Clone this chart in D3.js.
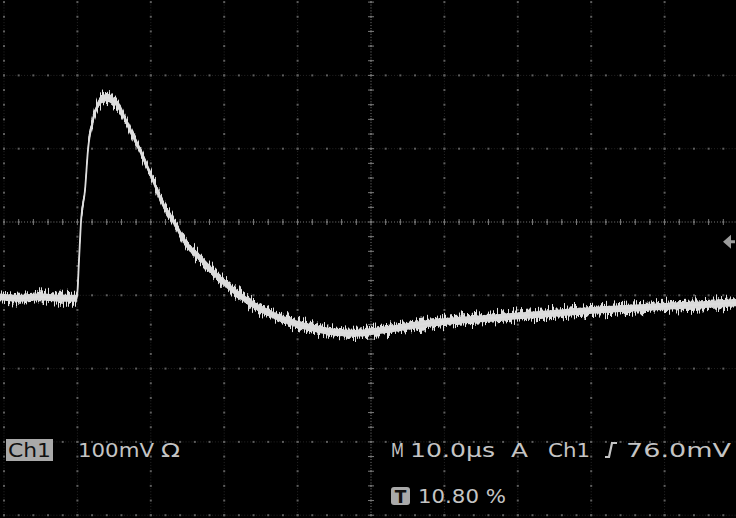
<!DOCTYPE html>
<html>
<head>
<meta charset="utf-8">
<script src="https://cdn.jsdelivr.net/npm/d3@7/dist/d3.min.js"></script>
<style>
  html, body { margin: 0; padding: 0; background: #000; }
  svg { display: block; }
</style>
</head>
<body>
<svg id="chart" width="736" height="518"></svg>
<script>
// ---- Data ----
// Time in microseconds (10 µs / div), voltage in mV (100 mV / div)
const timeUs = [-0.6, 2.2, 4.9, 7.6, 9.8, 9.95, 10.22, 10.49, 11.04, 11.44, 12.13, 12.81, 13.49, 14.17, 14.85, 15.53,
  16.89, 18.53, 20.3, 21.53, 23.16, 24.93, 26.7, 28.47, 31.2, 33.51, 35.83, 38.96, 42.64, 45.78, 47.82, 49.86,
  53.95, 58.04, 62.13, 67.57, 74.39, 81.2, 88.01, 94.82, 100];
const voltageMv = [-102, -104, -102, -104, -104, -101, -52, 0, 44, 98, 139, 160, 168, 170, 166, 160,
  132, 98, 57, 27, 0, -31, -49, -68, -93, -110, -123, -136, -146, -151, -152, -150,
  -144, -138, -134, -130, -125, -120, -116, -113, -110];

const xDivisions = [0, 10, 20, 30, 40, 50, 60, 70, 80, 90, 100];        // µs
const yDivisions = [-400, -300, -200, -100, 0, 100, 200];                // mV
const triggerMarkerMv = -27;

const chLabel = "Ch1";
const scaleLabel = "100mV";
const ohmLabel = "Ω";
const timebaseTokens = ["M", "10.0µs", "A", "Ch1", "76.0mV"];
const triggerPosLabel = "10.80 %";
const triggerPosIcon = "T";

// ---- Setup ----
const W = 736, H = 518;
const svg = d3.select("#chart");
svg.append("rect").attr("width", W).attr("height", H).attr("fill", "#000");

const x = d3.scaleLinear().domain([0, 100]).range([4, 738]);
const y = d3.scaleLinear().domain([-400, 300]).range([515.2, 2.1]);

const defs = svg.append("defs");
const f = defs.append("filter").attr("id", "noise").attr("filterUnits", "userSpaceOnUse")
  .attr("x", -10).attr("y", 0).attr("width", 760).attr("height", 420);
f.append("feTurbulence").attr("type", "fractalNoise").attr("baseFrequency", "0.9 0.04")
  .attr("numOctaves", 2).attr("seed", 7).attr("result", "t");
f.append("feColorMatrix").attr("in", "t").attr("type", "matrix")
  .attr("values", "0 0 0 0 0.5  0 2 0 0 -0.5  0 0 0 0 0  0 0 0 0 1").attr("result", "m");
f.append("feDisplacementMap").attr("in", "SourceGraphic").attr("in2", "m")
  .attr("scale", 10).attr("xChannelSelector", "R").attr("yChannelSelector", "G");

// ---- Graticule ----
const grid = svg.append("g");
const minorX = d3.range(0, 100.01, 2);
const minorY = d3.range(-400, 300.01, 20);
const fineX = d3.range(0, 100.01, 0.4);
const fineY = d3.range(-400, 300.01, 4);

xDivisions.forEach(t => {
  grid.selectAll(null).data(fineY).join("rect")
    .attr("x", x(t) - 0.5).attr("y", d => y(d) - 0.5).attr("width", 1).attr("height", 1)
    .attr("fill", t === 50 ? "#7a7a7a" : "#262626");
});
yDivisions.forEach(v => {
  grid.selectAll(null).data(fineX).join("rect")
    .attr("x", d => x(d) - 0.5).attr("y", y(v) - 0.5).attr("width", 1).attr("height", 1)
    .attr("fill", v === 0 ? "#7a7a7a" : "#262626");
});
xDivisions.forEach(t => {
  grid.selectAll(null).data(minorY).join("rect")
    .attr("x", x(t) - 1).attr("y", d => y(d) - 1).attr("width", 2).attr("height", 2)
    .attr("fill", "#5e5e5e");
});
yDivisions.forEach(v => {
  grid.selectAll(null).data(minorX).join("rect")
    .attr("x", d => x(d) - 1).attr("y", y(v) - 1).attr("width", 2).attr("height", 2)
    .attr("fill", "#5e5e5e");
});
grid.selectAll(null).data(minorY).join("line")
  .attr("x1", x(50) - 3).attr("x2", x(50) + 3)
  .attr("y1", d => y(d)).attr("y2", d => y(d))
  .attr("stroke", "#7a7a7a").attr("stroke-width", 1);
grid.selectAll(null).data(minorX).join("line")
  .attr("y1", y(0) - 3).attr("y2", y(0) + 3)
  .attr("x1", d => x(d)).attr("x2", d => x(d))
  .attr("stroke", "#7a7a7a").attr("stroke-width", 1);

// ---- Trace ----
// The noisy scope trace is a band of constant vertical thickness around the signal,
// so the fast rising edge stays thin while flat parts look thick.
const pts = timeUs.map((t, i) => [t, voltageMv[i]]);
const HALF = 4.6; // px, half thickness of the noise band (style)
const band = d3.area().x(d => x(d[0]))
  .y0(d => y(d[1]) - HALF).y1(d => y(d[1]) + HALF).curve(d3.curveMonotoneX);
const coreBand = d3.area().x(d => x(d[0]))
  .y0(d => y(d[1]) - HALF + 1.2).y1(d => y(d[1]) + HALF - 1.2).curve(d3.curveMonotoneX);
const lg = d3.line().x(d => x(d[0])).y(d => y(d[1])).curve(d3.curveMonotoneX);

svg.append("path").datum(pts).attr("d", band)
  .attr("fill", "#e0e0e0").attr("filter", "url(#noise)");
svg.append("path").datum(pts).attr("d", coreBand)
  .attr("fill", "#dadada");
svg.append("path").datum(pts).attr("d", lg)
  .attr("fill", "none").attr("stroke", "#dedede").attr("stroke-width", 1.8);

// ---- Trigger level marker ----
const ty = y(triggerMarkerMv);
svg.append("path")
  .attr("d", `M723,${ty} L731,${ty - 7} L731,${ty + 7} Z M731,${ty - 1.5} L735,${ty - 1.5} L735,${ty + 1.5} L731,${ty + 1.5} Z`)
  .attr("fill", "#9c9c9c");

// ---- Readouts ----
const font = "'DejaVu Sans', 'Liberation Sans', sans-serif";
const txt = svg.append("g").attr("font-family", font).attr("font-size", 19).attr("fill", "#c4c4c4");

txt.append("rect").attr("x", 6).attr("y", 439).attr("width", 47).attr("height", 22).attr("fill", "#a9a9a9");
txt.append("text").attr("x", 8).attr("y", 457).attr("fill", "#111").attr("textLength", 43)
  .attr("lengthAdjust", "spacingAndGlyphs").text(chLabel);
txt.append("text").attr("x", 78).attr("y", 457).attr("textLength", 76)
  .attr("lengthAdjust", "spacingAndGlyphs").text(scaleLabel);
txt.append("text").attr("x", 161).attr("y", 457).attr("textLength", 19)
  .attr("lengthAdjust", "spacingAndGlyphs").text(ohmLabel);

const tokX = [391, 410, 511, 548, 626];
const tokW = [13, 85, 17, 42, 105];
timebaseTokens.forEach((s, i) => {
  txt.append("text").attr("x", tokX[i]).attr("y", 457).attr("textLength", tokW[i])
    .attr("lengthAdjust", "spacingAndGlyphs").text(s);
});
txt.append("path").attr("d", "M605,457 L609,457 L612,443 L617,443")
  .attr("fill", "none").attr("stroke", "#c4c4c4").attr("stroke-width", 2.2);

txt.append("rect").attr("x", 391).attr("y", 487).attr("width", 19).attr("height", 18).attr("rx", 3)
  .attr("fill", "#a9a9a9");
txt.append("text").attr("x", 400.5).attr("y", 503).attr("text-anchor", "middle")
  .attr("fill", "#111").attr("font-weight", "bold").attr("font-size", 17).text(triggerPosIcon);
txt.append("text").attr("x", 418).attr("y", 503).attr("textLength", 88)
  .attr("lengthAdjust", "spacingAndGlyphs").text(triggerPosLabel);
</script>
</body>
</html>
